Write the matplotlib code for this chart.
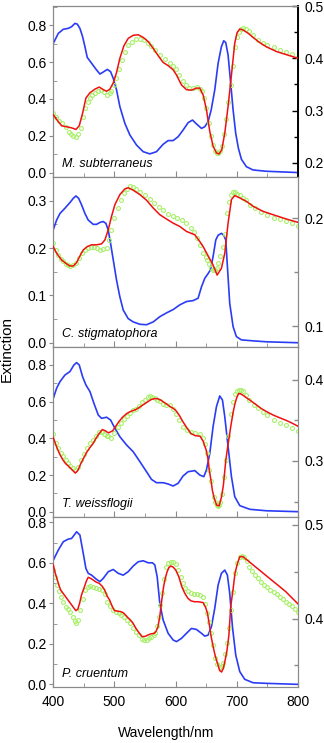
import matplotlib
matplotlib.use("Agg")
import matplotlib.pyplot as plt
from matplotlib.ticker import MultipleLocator

plt.rcParams['font.family'] = ['Liberation Sans', 'DejaVu Sans']

# ---------------- data ----------------
species = ["M. subterraneus", "C. stigmatophora", "T. weissflogii", "P. cruentum"]

# Panel 1
p1_blue_wl = [400,408.2,416.3,424.5,429.9,435.4,439.2,443.5,447.9,451.7,455.5,462.6,470.7,476.2,482.7,488.2,493.6,498,503.4,508.8,517,525.2,536,546.9,557.8,568.7,579.6,587.7,595.9,604.1,612.2,620.4,627.5,634,642.2,647.6,653,658.1,663.9,669.4,674.8,678.6,681.9,685.7,689.5,693.9,698.2,702.6,707.5,715.6,726.5,748.3,800]
p1_blue = [0.701,0.755,0.777,0.782,0.791,0.809,0.805,0.782,0.737,0.683,0.625,0.593,0.557,0.535,0.548,0.56,0.548,0.512,0.449,0.359,0.268,0.205,0.151,0.115,0.103,0.115,0.155,0.175,0.175,0.196,0.232,0.272,0.286,0.265,0.241,0.25,0.277,0.341,0.449,0.593,0.683,0.715,0.705,0.638,0.503,0.341,0.214,0.133,0.074,0.034,0.016,0.009,0.002]
p1_red_wl = [400,405.4,413.6,421.8,429.9,437,442.4,447.9,453.3,459.9,468,475.1,481.6,487.1,492.5,498,503.4,508.8,515.4,522.4,530.6,538.8,546.9,555.1,563.3,571.4,579.6,587.7,595.9,601.4,609.5,617.7,625.8,634,639.4,644.9,650.3,655.8,661.2,666.7,671,675.4,680.3,685.7,691.2,696.6,700.4,704.8,710.2,718.4,726.5,737.4,748.3,764.6,780.9,800]
p1_red = [0.292,0.283,0.271,0.269,0.267,0.264,0.271,0.295,0.324,0.334,0.341,0.345,0.34,0.337,0.341,0.353,0.373,0.4,0.424,0.438,0.444,0.445,0.44,0.432,0.419,0.405,0.392,0.386,0.378,0.368,0.349,0.34,0.339,0.343,0.343,0.33,0.302,0.26,0.232,0.219,0.217,0.225,0.257,0.308,0.368,0.429,0.449,0.456,0.454,0.448,0.44,0.43,0.422,0.413,0.407,0.4]
p1_green_wl = [400,405,410,415,420,425,429,433,437,441,445,449,452,456,460,464,468,473,478,483,488,492,495,499,503,507,512,517,522,528,535,541,548,554,560,567,575,582,590,595,600,606,612,617,622,628,635,639,643,647,650,654,658,661,664,667,670,673,676,679,682,686,690,693,697,700,704,707,710,715,720,727,735,742,750,760,770,780,790,800]
p1_green = [0.295,0.287,0.281,0.276,0.268,0.26,0.255,0.251,0.25,0.256,0.267,0.288,0.305,0.316,0.324,0.33,0.334,0.338,0.34,0.336,0.33,0.333,0.337,0.348,0.362,0.38,0.397,0.412,0.426,0.432,0.436,0.437,0.435,0.43,0.424,0.416,0.407,0.399,0.391,0.386,0.379,0.368,0.356,0.349,0.343,0.343,0.345,0.342,0.337,0.325,0.305,0.276,0.251,0.235,0.222,0.218,0.218,0.222,0.232,0.255,0.283,0.316,0.349,0.385,0.422,0.44,0.451,0.456,0.457,0.456,0.453,0.444,0.435,0.43,0.426,0.421,0.416,0.412,0.408,0.403]

# Panel 2
p2_blue_wl = [400,405.4,410.9,419,427.2,432.7,437,441.4,446.3,451.7,457.1,465.3,470.7,476.2,481.6,486,489.8,493.6,498,503.4,508.8,514.3,522.4,530.6,541.5,552.4,563.3,574.1,585,595.9,606.8,617.7,628.6,636.7,642.2,647.6,653,656.9,661.2,665.6,669.4,674.8,678.6,681.9,684.6,688.4,693.9,699.3,707.5,726.5,748.3,800]
p2_blue = [0.239,0.259,0.273,0.284,0.296,0.305,0.31,0.305,0.291,0.273,0.259,0.25,0.25,0.254,0.256,0.252,0.238,0.21,0.175,0.132,0.097,0.069,0.051,0.044,0.039,0.038,0.044,0.055,0.063,0.07,0.08,0.087,0.089,0.094,0.118,0.136,0.146,0.154,0.182,0.217,0.227,0.231,0.227,0.217,0.161,0.083,0.034,0.013,0.006,0.004,0.002,0.0]
p2_red_wl = [400,405.4,413.6,421.8,427.2,432.7,438.1,443.5,449,455.5,462.6,470.7,478.9,484.4,489.8,495.2,500.7,508.8,517,522.4,530.6,541.5,552.4,563.3,574.1,585,595.9,606.8,617.7,631.3,639.4,644.9,653.1,661.2,667.8,674.8,680.3,685.7,691.2,696.6,704.8,715.6,726.5,742.8,759.2,780.9,800]
p2_red = [0.1736,0.1674,0.1612,0.1575,0.1556,0.1556,0.1587,0.1649,0.1705,0.1736,0.1752,0.1752,0.1761,0.1798,0.1891,0.2016,0.2124,0.2217,0.227,0.228,0.2258,0.2217,0.2165,0.2093,0.2031,0.1991,0.1953,0.1922,0.1876,0.1845,0.1783,0.1736,0.1649,0.1565,0.1472,0.1534,0.1674,0.1953,0.2171,0.2208,0.2186,0.2155,0.2109,0.2062,0.2031,0.1991,0.196]
p2_green_wl = [400,404,408,412,416,420,424,428,432,437,442,447,452,457,462,467,472,477,482,487,491,495,500,505,510,515,520,525,530,535,542,550,558,565,572,580,588,595,602,610,617,625,630,635,640,645,649,652,655,658,661,664,667,670,673,677,680,684,687,690,693,697,701,705,710,715,722,730,740,750,760,770,780,790,800]
p2_green = [0.1767,0.17,0.166,0.1625,0.16,0.1575,0.1565,0.1556,0.1565,0.1587,0.163,0.1674,0.17,0.172,0.1732,0.1736,0.172,0.1705,0.171,0.172,0.18,0.189,0.2,0.209,0.217,0.223,0.227,0.2295,0.229,0.227,0.2245,0.2217,0.218,0.214,0.2105,0.207,0.204,0.202,0.2,0.1984,0.195,0.1907,0.187,0.1814,0.175,0.1674,0.164,0.161,0.157,0.154,0.152,0.152,0.154,0.158,0.165,0.1736,0.185,0.2047,0.215,0.2217,0.224,0.224,0.2225,0.2217,0.219,0.2165,0.2125,0.209,0.2055,0.203,0.2005,0.199,0.197,0.1953,0.193]

# Panel 3
p3_blue_wl = [400,405.4,410.9,419,427.2,433.7,438.1,442.4,447.9,453.3,459.9,466.4,473.5,478.9,487.1,493.6,500.7,508.8,519.7,530.6,541.5,552.4,560.5,568.7,579.6,587.7,595.9,604.1,612.2,620.4,631.3,639.4,646,650.3,655.8,661.2,666.7,672.1,676.5,680.3,685.7,691.2,696.6,704.8,721.1,748.3,800]
p3_blue = [0.618,0.673,0.709,0.745,0.764,0.8,0.813,0.8,0.736,0.691,0.655,0.591,0.527,0.509,0.515,0.5,0.455,0.409,0.364,0.327,0.273,0.218,0.176,0.158,0.158,0.151,0.14,0.155,0.195,0.218,0.224,0.2,0.191,0.227,0.318,0.464,0.573,0.631,0.609,0.518,0.355,0.191,0.082,0.033,0.013,0.005,0.0]
p3_red_wl = [400,405,410,415,420,425,430,436,440,445,450,455,460,465,470,475,480,485,490,497,502,507,513,520,527,535,542,550,555,560,565,570,575,580,585,590,595,600,606,612,618,625,632,640,645,650,653,655,658,660,663,667,671,675,678,682,686,690,694,697,700,703,706,710,715,720,730,740,750,760,770,780,790,800]
p3_red = [0.3287,0.318,0.309,0.302,0.2967,0.2934,0.2895,0.285,0.288,0.2967,0.304,0.311,0.3165,0.3213,0.328,0.3336,0.3385,0.337,0.3344,0.3369,0.3425,0.348,0.3535,0.3582,0.361,0.3631,0.3665,0.3705,0.373,0.3754,0.3765,0.3766,0.375,0.3725,0.37,0.3672,0.365,0.3623,0.356,0.348,0.341,0.3336,0.331,0.3303,0.324,0.3131,0.302,0.2885,0.275,0.264,0.254,0.2455,0.2447,0.2557,0.27,0.3008,0.322,0.3418,0.36,0.3705,0.378,0.3828,0.3825,0.3807,0.378,0.3754,0.37,0.3643,0.36,0.3561,0.353,0.35,0.3465,0.3426]
p3_green_wl = [400,404,408,412,416,420,424,428,432,436,440,445,450,455,460,465,470,475,479,483,487,490,495,500,505,510,515,520,525,530,535,540,545,550,554,558,562,566,570,575,580,585,590,595,600,606,612,618,625,632,640,644,648,651,655,658,662,665,667,669,671,673,676,679,682,686,690,693,697,700,703,707,710,715,720,728,735,742,750,760,770,780,790,800]
p3_green = [0.3328,0.322,0.3155,0.31,0.306,0.3016,0.298,0.2934,0.291,0.2893,0.293,0.3008,0.309,0.3164,0.322,0.3262,0.331,0.3357,0.336,0.3336,0.331,0.3303,0.3287,0.334,0.3418,0.347,0.351,0.355,0.359,0.362,0.3643,0.368,0.372,0.3754,0.378,0.3795,0.379,0.377,0.3754,0.373,0.3705,0.369,0.3684,0.364,0.3582,0.35,0.3418,0.338,0.3357,0.334,0.3328,0.328,0.3213,0.31,0.2885,0.275,0.2557,0.25,0.2455,0.245,0.2455,0.249,0.2598,0.28,0.3008,0.33,0.3582,0.372,0.3828,0.3862,0.3877,0.387,0.386,0.381,0.3746,0.369,0.3645,0.3602,0.356,0.35,0.3465,0.3439,0.3405,0.3369]

# Panel 4
p4_blue_wl = [400,408.2,416.3,424.5,429.9,438.1,443.5,449,453.3,457.1,462.6,470.7,476.2,481.6,489.8,498,506.1,514.3,522.4,530.6,538.8,546.9,555.1,562.2,566,569.8,574.1,579.6,587.7,595.9,601.4,609.5,617.7,625.8,634,642.2,647.6,653,658.5,663.9,669.4,674.8,680.3,684.6,688.4,692.8,698.2,704.8,712.9,726.5,748.3,800]
p4_blue = [0.613,0.663,0.704,0.717,0.72,0.753,0.737,0.646,0.572,0.548,0.539,0.518,0.507,0.523,0.556,0.567,0.548,0.539,0.556,0.584,0.605,0.61,0.6,0.6,0.589,0.531,0.4,0.317,0.252,0.219,0.211,0.227,0.252,0.276,0.271,0.252,0.238,0.243,0.285,0.375,0.49,0.548,0.564,0.539,0.449,0.285,0.145,0.063,0.025,0.008,0.005,0.0]
p4_red_wl = [400,403,406,409,412,416,420,425,430,434,437,440,443,446,450,454,457,461,465,470,475,480,484,488,492,496,500,505,510,514,518,522,526,530,535,540,545,550,555,560,565,568,571,574,577,580,583,586,589,592,596,600,605,610,615,620,625,630,637,645,649,652,655,658,662,665,669,672,675,678,681,684,687,690,694,697,701,705,710,715,720,730,740,750,760,770,780,790,800]
p4_red = [0.4573,0.449,0.4425,0.436,0.4306,0.427,0.4235,0.419,0.4146,0.411,0.4085,0.41,0.4164,0.425,0.4324,0.44,0.4441,0.443,0.4413,0.439,0.4377,0.4345,0.4306,0.424,0.42,0.4135,0.4085,0.408,0.4075,0.4065,0.4039,0.401,0.3985,0.3955,0.3897,0.385,0.3808,0.381,0.3826,0.3838,0.3843,0.3865,0.391,0.402,0.418,0.433,0.443,0.45,0.4545,0.4562,0.455,0.452,0.445,0.4342,0.427,0.4217,0.419,0.4181,0.418,0.4171,0.412,0.4057,0.394,0.3808,0.368,0.3594,0.351,0.3445,0.343,0.347,0.356,0.3665,0.382,0.4128,0.432,0.4484,0.459,0.4662,0.4662,0.4635,0.4609,0.4555,0.4502,0.4448,0.4395,0.4342,0.4288,0.4222,0.4157]
p4_green_wl = [400,403,406,409,412,416,420,424,428,432,435,437,440,444,448,452,456,460,465,470,475,480,484,488,492,497,502,507,511,515,520,525,530,535,540,545,549,553,557,560,564,567,570,572,575,578,581,585,588,592,596,600,604,608,612,615,620,625,630,635,640,645,648,652,655,658,661,665,668,672,675,678,681,684,687,690,693,697,701,705,709,712,716,720,725,730,735,740,745,750,755,760,765,770,775,780,785,790,795,800]
p4_green = [0.452,0.444,0.436,0.429,0.4235,0.418,0.4128,0.41,0.4075,0.402,0.397,0.395,0.3985,0.4093,0.421,0.4306,0.434,0.4349,0.434,0.4324,0.4315,0.4306,0.426,0.4181,0.414,0.4093,0.407,0.4057,0.404,0.4021,0.399,0.395,0.39,0.3861,0.382,0.3779,0.377,0.3772,0.379,0.3808,0.383,0.3843,0.392,0.4021,0.415,0.427,0.442,0.4555,0.459,0.4609,0.46,0.4584,0.452,0.4448,0.438,0.4324,0.429,0.427,0.4265,0.4263,0.425,0.4235,0.416,0.4057,0.396,0.3843,0.372,0.3577,0.352,0.3488,0.349,0.3523,0.362,0.3737,0.39,0.4093,0.428,0.4484,0.459,0.4662,0.4665,0.4655,0.462,0.4555,0.4505,0.4465,0.443,0.4395,0.436,0.4335,0.431,0.4288,0.426,0.4235,0.421,0.4181,0.4155,0.413,0.41,0.4075]

panels = [
    (p1_blue_wl, p1_blue, p1_red_wl, p1_red, p1_green_wl, p1_green),
    (p2_blue_wl, p2_blue, p2_red_wl, p2_red, p2_green_wl, p2_green),
    (p3_blue_wl, p3_blue, p3_red_wl, p3_red, p3_green_wl, p3_green),
    (p4_blue_wl, p4_blue, p4_red_wl, p4_red, p4_green_wl, p4_green),
]

# ---------------- layout / style ----------------
left_lims = [(-0.022, 0.903), (-0.009, 0.35), (-0.029, 0.898), (-0.013, 0.826)]
left_major = [0.2, 0.1, 0.2, 0.2]
right_lims = [(0.173, 0.5), (0.0806, 0.238), (0.231, 0.44), (0.327, 0.5085)]
edges = [6, 177, 347, 517, 687]

W, H = 324, 743
fig = plt.figure(figsize=(W / 100, H / 100), dpi=100)

BLUE = '#2a3cf5'
RED = '#f01010'
GREEN = '#a8f06a'
SPINE = '#8a8a8a'

x0 = 53.3 / W
wid = (298 - 53.3) / W

for i, (bwl, b, rwl, r, gwl, g) in enumerate(panels):
    top, bot = edges[i], edges[i + 1]
    ax = fig.add_axes([x0, 1 - bot / H, wid, (bot - top) / H])
    ax2 = ax.twinx()

    ax.plot(bwl, b, color=BLUE, lw=1.2, zorder=3)
    ax2.plot(gwl, g, ls='none', marker='o', ms=2.8, mfc='none', mec=GREEN, mew=0.8, zorder=2)
    ax2.plot(rwl, r, color=RED, lw=1.1, zorder=3)

    ax.set_xlim(400, 800)
    ax.set_ylim(*left_lims[i])
    ax2.set_ylim(*right_lims[i])

    ax.xaxis.set_major_locator(MultipleLocator(100))
    ax.xaxis.set_minor_locator(MultipleLocator(50))
    ax.yaxis.set_major_locator(MultipleLocator(left_major[i]))
    ax.yaxis.set_minor_locator(MultipleLocator(left_major[i] / 2))
    ax2.yaxis.set_major_locator(MultipleLocator(0.1))
    ax2.yaxis.set_minor_locator(MultipleLocator(0.05))

    rcol = 'black' if i == 0 else SPINE

    ax.tick_params(axis='x', which='both', direction='in', color=SPINE, labelsize=10, pad=6)
    ax.tick_params(axis='x', which='major', length=4)
    ax.tick_params(axis='x', which='minor', length=3)
    ax.tick_params(axis='y', which='major', direction='out', length=3, color=SPINE, labelsize=10, pad=1.8)
    ax.tick_params(axis='y', which='minor', direction='in', length=3, color=SPINE)
    ax2.tick_params(axis='y', which='major', direction='in', length=4.5, width=1.0, color=rcol, labelsize=10, pad=5)
    ax2.tick_params(axis='y', which='minor', direction='in', length=3, width=1.0, color=rcol)

    for s in ['left', 'top', 'bottom', 'right']:
        for a in (ax, ax2):
            a.spines[s].set_color(SPINE)
            a.spines[s].set_linewidth(0.8)
    if i == 0:
        ax2.spines['right'].set_color('black')
        ax2.spines['right'].set_linewidth(1.4)

    if i < 3:
        ax.tick_params(axis='x', labelbottom=False)

    ax.text(0.034, 0.078, species[i], transform=ax.transAxes, fontsize=9,
            style='italic', ha='left', va='center', zorder=5)

fig.text(7 / W, 1 - 349 / H, 'Extinction', rotation=90, ha='center', va='center', fontsize=11)
fig.text(166 / W, 1 - 733 / H, 'Wavelength/nm', ha='center', va='center', fontsize=10)

fig.savefig('out.png', dpi=100)
